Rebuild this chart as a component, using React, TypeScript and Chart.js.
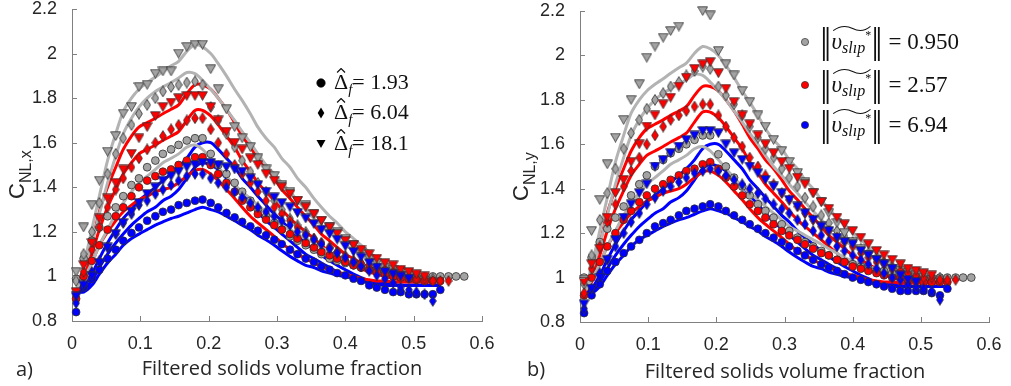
import React, { useEffect, useRef } from "react";
import { Chart, registerables } from "chart.js";
Chart.register(...registerables);

// ---------- shared x positions of the filtered bins ----------
const xGrid = [0.006, 0.017, 0.029, 0.040, 0.052, 0.064, 0.075, 0.087, 0.098, 0.110,
  0.122, 0.133, 0.145, 0.156, 0.168, 0.180, 0.191, 0.203, 0.214, 0.226,
  0.238, 0.249, 0.261, 0.272, 0.284, 0.296, 0.307, 0.319, 0.330, 0.342,
  0.354, 0.365, 0.377, 0.388, 0.400, 0.412, 0.423, 0.435, 0.446, 0.458,
  0.470, 0.481, 0.493, 0.504, 0.516, 0.528, 0.539, 0.551, 0.562, 0.574];

const xTickLabels = ["0", "0.1", "0.2", "0.3", "0.4", "0.5", "0.6"];
const yTickLabels = ["0.8", "1", "1.2", "1.4", "1.6", "1.8", "2", "2.2"];

// ---------- model lines (same in both panels) ----------
const lnGray1 = [0.93, 1.05, 1.21, 1.36, 1.52, 1.64, 1.74, 1.80, 1.84, 1.87, 1.895, 1.92, 1.945, 1.965, 2.01, 2.04, 2.03, 2.0, 1.955, 1.90, 1.84, 1.79, 1.73, 1.67, 1.62, 1.58, 1.53, 1.49, 1.44, 1.40, 1.35, 1.31, 1.27, 1.24, 1.20, 1.17, 1.14, 1.11, 1.08, 1.06, 1.04, 1.03, 1.02, 1.01, 1.0];
const lnGray2 = [0.93, 1.03, 1.15, 1.28, 1.42, 1.54, 1.64, 1.71, 1.76, 1.80, 1.83, 1.85, 1.87, 1.89, 1.915, 1.91, 1.88, 1.84, 1.80, 1.75, 1.70, 1.65, 1.60, 1.55, 1.50, 1.46, 1.42, 1.38, 1.34, 1.30, 1.26, 1.23, 1.20, 1.17, 1.14, 1.12, 1.10, 1.08, 1.06, 1.04, 1.03, 1.02, 1.01, 1.0, 1.0];
const lnGray3 = [0.93, 0.99, 1.06, 1.14, 1.21, 1.28, 1.33, 1.38, 1.42, 1.45, 1.48, 1.51, 1.53, 1.55, 1.58, 1.59, 1.57, 1.53, 1.49, 1.45, 1.41, 1.38, 1.35, 1.32, 1.29, 1.26, 1.23, 1.21, 1.19, 1.17, 1.15, 1.13, 1.11, 1.09, 1.075, 1.06, 1.05, 1.04, 1.03, 1.02, 1.01, 1.005, 1.0, 1.0, 1.0];
const lnRed1 = [0.93, 1.02, 1.15, 1.29, 1.40, 1.49, 1.57, 1.63, 1.67, 1.69, 1.71, 1.73, 1.75, 1.77, 1.82, 1.86, 1.86, 1.84, 1.80, 1.75, 1.69, 1.63, 1.58, 1.53, 1.49, 1.44, 1.39, 1.35, 1.31, 1.27, 1.23, 1.19, 1.16, 1.13, 1.10, 1.08, 1.06, 1.04, 1.025, 1.015, 1.005, 1.0, 0.995, 0.99, 0.99];
const lnRed2 = [0.93, 1.0, 1.10, 1.21, 1.31, 1.39, 1.46, 1.51, 1.55, 1.57, 1.59, 1.61, 1.63, 1.65, 1.70, 1.745, 1.745, 1.72, 1.68, 1.63, 1.58, 1.52, 1.47, 1.42, 1.38, 1.34, 1.30, 1.26, 1.23, 1.20, 1.17, 1.14, 1.11, 1.08, 1.065, 1.05, 1.035, 1.02, 1.01, 1.0, 0.99, 0.985, 0.98, 0.98, 0.98, 0.98];
const lnRed3 = [0.93, 0.98, 1.06, 1.14, 1.20, 1.25, 1.29, 1.32, 1.345, 1.36, 1.38, 1.39, 1.40, 1.42, 1.45, 1.475, 1.48, 1.46, 1.43, 1.39, 1.35, 1.31, 1.27, 1.24, 1.21, 1.18, 1.15, 1.12, 1.10, 1.08, 1.06, 1.045, 1.03, 1.02, 1.01, 1.0, 0.99, 0.985, 0.98, 0.98, 0.975, 0.975, 0.975, 0.975, 0.975, 0.975];
const lnBlue1 = [0.93, 0.95, 1.01, 1.08, 1.15, 1.21, 1.26, 1.30, 1.34, 1.37, 1.40, 1.43, 1.46, 1.49, 1.53, 1.58, 1.60, 1.60, 1.57, 1.53, 1.49, 1.44, 1.40, 1.36, 1.32, 1.28, 1.25, 1.21, 1.18, 1.15, 1.12, 1.095, 1.07, 1.05, 1.03, 1.01, 0.995, 0.98, 0.975, 0.97, 0.965, 0.96, 0.96, 0.96, 0.96, 0.96, 0.96];
const lnBlue2 = [0.93, 0.94, 0.98, 1.04, 1.10, 1.15, 1.19, 1.23, 1.26, 1.29, 1.31, 1.34, 1.36, 1.39, 1.44, 1.49, 1.51, 1.50, 1.48, 1.44, 1.41, 1.37, 1.33, 1.29, 1.25, 1.22, 1.19, 1.16, 1.13, 1.10, 1.08, 1.06, 1.04, 1.02, 1.005, 0.99, 0.98, 0.97, 0.965, 0.96, 0.96, 0.96, 0.96, 0.96, 0.96, 0.96, 0.96];
const lnBlue3 = [0.93, 0.93, 0.96, 1.01, 1.06, 1.10, 1.14, 1.17, 1.19, 1.21, 1.23, 1.245, 1.26, 1.27, 1.285, 1.30, 1.31, 1.30, 1.29, 1.27, 1.25, 1.23, 1.21, 1.185, 1.165, 1.14, 1.115, 1.09, 1.07, 1.05, 1.04, 1.025, 1.015, 1.005, 1.0, 0.99, 0.98, 0.97, 0.965, 0.96, 0.96, 0.96, 0.96, 0.96, 0.96, 0.96, 0.96];

// ---------- panel a) C_NL,x filtered data ----------
const aGrayCirc = [0.99, 1.08, 1.16, 1.22, 1.27, 1.31, 1.36, 1.41, 1.44, 1.49, 1.52, 1.55, 1.57, 1.59, 1.61, 1.62, 1.62, 1.55, 1.50, 1.46, 1.42, 1.38, 1.34, 1.30, 1.27, 1.24, 1.21, 1.18, 1.16, 1.14, 1.12, 1.10, 1.08, 1.07, 1.06, 1.05, 1.04, 1.03, 1.03, 1.02, 1.01, 1.01, 1.0, 1.0, 1.0, 1.0, 1.0, 1.0, 1.0, 1.0];
const aGrayDiam = [0.98, 1.10, 1.20, 1.33, 1.46, 1.55, 1.62, 1.68, 1.73, 1.77, 1.80, 1.83, 1.85, 1.86, 1.87, 1.875, 1.86, 1.76, 1.70, 1.64, 1.58, 1.52, 1.47, 1.42, 1.38, 1.34, 1.30, 1.26, 1.23, 1.20, 1.17, 1.15, 1.13, 1.11, 1.09, 1.07, 1.06, 1.05, 1.04, 1.03, 1.02, 1.01, 1.0, 1.0, 0.99, 0.99];
const aGrayTri = [1.02, 1.22, 1.32, 1.43, 1.56, 1.63, 1.73, 1.76, 1.85, 1.86, 1.91, 1.92, 1.92, 2.0, 2.03, 2.04, 2.04, 1.93, 1.84, 1.75, 1.67, 1.62, 1.58, 1.53, 1.48, 1.45, 1.41, 1.38, 1.34, 1.32, 1.28, 1.25, 1.22, 1.20, 1.17, 1.14, 1.11, 1.08, 1.06, 1.04, 1.03, 1.02, 1.0, 0.985, 0.98];
const aRedCirc = [0.90, 1.0, 1.07, 1.14, 1.21, 1.27, 1.31, 1.36, 1.40, 1.43, 1.45, 1.47, 1.48, 1.50, 1.52, 1.535, 1.535, 1.50, 1.46, 1.42, 1.38, 1.34, 1.31, 1.28, 1.255, 1.23, 1.21, 1.19, 1.17, 1.15, 1.13, 1.11, 1.095, 1.08, 1.065, 1.05, 1.04, 1.03, 1.02, 1.01, 1.0, 0.995, 0.99, 0.985, 0.98, 0.98, 0.98];
const aRedDiam = [0.92, 1.02, 1.12, 1.22, 1.31, 1.39, 1.44, 1.49, 1.53, 1.57, 1.60, 1.63, 1.66, 1.68, 1.70, 1.71, 1.71, 1.66, 1.60, 1.55, 1.50, 1.46, 1.42, 1.38, 1.34, 1.31, 1.28, 1.25, 1.22, 1.19, 1.17, 1.15, 1.13, 1.11, 1.09, 1.07, 1.06, 1.05, 1.04, 1.03, 1.02, 1.01, 1.0, 0.99, 0.99, 0.98, 0.98, 0.98];
const aRedTri = [0.93, 1.05, 1.15, 1.26, 1.35, 1.42, 1.48, 1.55, 1.62, 1.67, 1.72, 1.76, 1.78, 1.80, 1.81, 1.81, 1.81, 1.76, 1.70, 1.65, 1.60, 1.57, 1.53, 1.50, 1.46, 1.43, 1.40, 1.37, 1.34, 1.31, 1.28, 1.25, 1.22, 1.19, 1.16, 1.14, 1.12, 1.10, 1.08, 1.06, 1.05, 1.03, 1.02, 1.01, 1.0];
const aBlueCirc = [0.84, 0.95, 0.99, 1.03, 1.08, 1.12, 1.16, 1.195, 1.22, 1.25, 1.27, 1.29, 1.30, 1.32, 1.33, 1.34, 1.345, 1.33, 1.31, 1.285, 1.265, 1.245, 1.225, 1.205, 1.185, 1.165, 1.145, 1.12, 1.10, 1.08, 1.065, 1.045, 1.03, 1.015, 1.005, 0.99, 0.98, 0.96, 0.95, 0.94, 0.93, 0.93, 0.92, 0.92, 0.92, 0.92, 0.94];
const aBlueDiam = [0.88, 0.96, 1.02, 1.07, 1.13, 1.19, 1.24, 1.28, 1.32, 1.34, 1.37, 1.39, 1.41, 1.43, 1.45, 1.46, 1.46, 1.44, 1.42, 1.40, 1.38, 1.355, 1.33, 1.31, 1.29, 1.27, 1.25, 1.23, 1.20, 1.185, 1.165, 1.145, 1.125, 1.105, 1.085, 1.065, 1.045, 1.025, 1.005, 0.99, 0.97, 0.95, 0.94, 0.93, 0.92, 0.89];
const aBlueTri = [0.91, 0.96, 1.00, 1.06, 1.13, 1.19, 1.24, 1.29, 1.33, 1.37, 1.40, 1.43, 1.45, 1.47, 1.49, 1.50, 1.51, 1.51, 1.50, 1.49, 1.48, 1.47, 1.44, 1.41, 1.38, 1.355, 1.33, 1.31, 1.285, 1.26, 1.235, 1.21, 1.19, 1.165, 1.135, 1.11, 1.085, 1.06, 1.04, 1.02, 1.01, 1.0, 0.99];

// ---------- panel b) C_NL,y filtered data ----------
const bGrayCirc = [1.0, 1.09, 1.16, 1.22, 1.27, 1.32, 1.37, 1.42, 1.46, 1.50, 1.53, 1.56, 1.58, 1.60, 1.62, 1.64, 1.64, 1.555, 1.50, 1.45, 1.41, 1.37, 1.33, 1.30, 1.27, 1.24, 1.21, 1.18, 1.16, 1.14, 1.12, 1.10, 1.08, 1.07, 1.06, 1.05, 1.04, 1.03, 1.03, 1.02, 1.01, 1.01, 1.0, 1.0, 1.0, 1.0, 1.0, 1.0, 1.0, 1.0];
const bGrayDiam = [0.97, 1.10, 1.26, 1.38, 1.49, 1.58, 1.65, 1.71, 1.76, 1.80, 1.83, 1.86, 1.88, 1.91, 1.93, 1.95, 1.94, 1.86, 1.82, 1.78, 1.73, 1.68, 1.63, 1.58, 1.54, 1.49, 1.45, 1.41, 1.36, 1.32, 1.28, 1.245, 1.21, 1.185, 1.16, 1.13, 1.11, 1.09, 1.07, 1.05, 1.04, 1.03, 1.02, 1.01, 1.0, 1.0];
const bGrayTri = [0.99, 1.21, 1.35, 1.51, 1.63, 1.71, 1.80, 1.87, 1.99, 2.04, 2.08, 2.11, 2.13, null, null, 2.20, 2.18, 2.02, 1.96, 1.91, 1.84, 1.79, 1.73, 1.68, 1.62, 1.57, 1.52, 1.47, 1.43, 1.38, 1.34, 1.29, 1.245, 1.20, 1.16, 1.13, 1.10, 1.08, 1.06, 1.04, 1.03, 1.02, 1.01, 1.0, 0.99];
const bRedCirc = [0.92, 1.0, 1.07, 1.14, 1.20, 1.26, 1.30, 1.34, 1.37, 1.40, 1.42, 1.44, 1.46, 1.48, 1.49, 1.51, 1.52, 1.49, 1.45, 1.41, 1.37, 1.33, 1.30, 1.27, 1.24, 1.21, 1.19, 1.17, 1.15, 1.13, 1.11, 1.10, 1.08, 1.07, 1.05, 1.04, 1.03, 1.02, 1.01, 1.0, 1.0, 0.99, 0.99, 0.98, 0.98, 0.98, 0.98];
const bRedDiam = [0.93, 1.04, 1.14, 1.25, 1.33, 1.41, 1.48, 1.54, 1.60, 1.64, 1.68, 1.71, 1.73, 1.75, 1.77, 1.78, 1.78, 1.73, 1.68, 1.63, 1.59, 1.54, 1.50, 1.46, 1.42, 1.38, 1.35, 1.32, 1.29, 1.26, 1.23, 1.21, 1.18, 1.16, 1.14, 1.11, 1.09, 1.07, 1.06, 1.04, 1.03, 1.02, 1.01, 1.0, 1.0, 0.99, 0.99, 0.99];
const bRedTri = [0.98, 1.06, 1.13, 1.27, 1.38, 1.44, 1.52, 1.60, 1.68, 1.73, 1.78, 1.81, 1.86, 1.90, 1.94, 1.96, 1.97, 1.92, 1.85, 1.79, 1.73, 1.69, 1.64, 1.60, 1.56, 1.52, 1.49, 1.45, 1.42, 1.38, 1.34, 1.31, 1.27, 1.24, 1.21, 1.18, 1.15, 1.12, 1.10, 1.08, 1.06, 1.04, 1.03, 1.02, 1.01];
const bBlueCirc = [0.84, 0.92, 0.97, 1.03, 1.07, 1.11, 1.14, 1.17, 1.20, 1.23, 1.245, 1.26, 1.28, 1.30, 1.31, 1.32, 1.33, 1.32, 1.30, 1.28, 1.26, 1.24, 1.22, 1.20, 1.18, 1.16, 1.14, 1.12, 1.10, 1.08, 1.06, 1.045, 1.03, 1.015, 1.0, 0.99, 0.98, 0.97, 0.96, 0.95, 0.94, 0.94, 0.94, 0.94, 0.93, 0.92, 0.95];
const bBlueDiam = [0.86, 0.95, 1.02, 1.08, 1.14, 1.20, 1.25, 1.29, 1.33, 1.36, 1.39, 1.41, 1.43, 1.45, 1.47, 1.48, 1.49, 1.48, 1.46, 1.44, 1.42, 1.40, 1.38, 1.355, 1.33, 1.31, 1.29, 1.26, 1.24, 1.21, 1.19, 1.165, 1.14, 1.12, 1.10, 1.08, 1.06, 1.04, 1.02, 1.0, 0.99, 0.97, 0.96, 0.95, 0.94, 0.90];
const bBlueTri = [0.88, 0.95, 1.00, 1.08, 1.17, 1.27, 1.33, 1.38, 1.42, 1.50, 1.53, 1.56, 1.59, 1.62, 1.64, 1.66, 1.66, 1.65, 1.60, 1.56, 1.53, 1.50, 1.47, 1.44, 1.41, 1.38, 1.35, 1.32, 1.29, 1.26, 1.23, 1.21, 1.18, 1.16, 1.15, 1.12, 1.10, 1.08, 1.06, 1.04, 1.01, 0.99, 0.98];

// ---------- legend text ----------
const filterLabels = ["1.93", "6.04", "18.1"];
const slipLabels = ["0.950", "2.57", "6.94"];

// ---------- styles ----------
const GRAY_LINE = "#b3b3b3";
const GRAY_FILL = "#a3a3a3";
const RED = "#ff0000";
const BLUE = "#0000ff";
const EDGE = "#2e2e2e";
const AXIS = "#808080";
const TXT = "#262626";
const SANS = '"Liberation Sans", Arial, sans-serif';

type Shape = "circle" | "diamond" | "tri";

function markerCanvas(shape: Shape, fill: string): HTMLCanvasElement {
  const c = document.createElement("canvas");
  if (shape === "diamond") { c.width = 8; c.height = 12; } else { c.width = 11; c.height = 10; }
  const g = c.getContext("2d")!;
  g.beginPath();
  if (shape === "diamond") {
    g.moveTo(4, 0.6); g.lineTo(7.4, 6); g.lineTo(4, 11.4); g.lineTo(0.6, 6);
  } else {
    g.moveTo(0.6, 0.8); g.lineTo(10.4, 0.8); g.lineTo(5.5, 9.4);
  }
  g.closePath();
  g.fillStyle = fill; g.fill();
  g.strokeStyle = EDGE; g.lineWidth = 0.8; g.stroke();
  return c;
}

const pts = (ys: (number | null)[]) =>
  ys.map((y, i) => (y == null ? null : { x: xGrid[i], y })).filter((p) => p !== null) as { x: number; y: number }[];

interface PanelSpec {
  scatter: { ys: (number | null)[]; fill: string; shape: Shape }[];
  sub: string;
  tag: string;
  pad: { left: number; top: number; right: number; bottom: number };
  yWidth: number;
  xHeight: number;
  yTitle: { x: number; y: number };
  xTitle: { x: number; y: number };
  tagPos: { x: number; y: number };
}

const lineSet = [
  { ys: lnGray3, color: GRAY_LINE }, { ys: lnGray2, color: GRAY_LINE }, { ys: lnGray1, color: GRAY_LINE },
  { ys: lnRed3, color: RED }, { ys: lnRed2, color: RED }, { ys: lnRed1, color: RED },
  { ys: lnBlue3, color: BLUE }, { ys: lnBlue2, color: BLUE }, { ys: lnBlue1, color: BLUE },
];

const panelA: PanelSpec = {
  scatter: [
    { ys: aGrayCirc, fill: GRAY_FILL, shape: "circle" }, { ys: aGrayDiam, fill: GRAY_FILL, shape: "diamond" }, { ys: aGrayTri, fill: GRAY_FILL, shape: "tri" },
    { ys: aRedCirc, fill: RED, shape: "circle" }, { ys: aRedDiam, fill: RED, shape: "diamond" }, { ys: aRedTri, fill: RED, shape: "tri" },
    { ys: aBlueCirc, fill: BLUE, shape: "circle" }, { ys: aBlueDiam, fill: BLUE, shape: "diamond" }, { ys: aBlueTri, fill: BLUE, shape: "tri" },
  ],
  sub: "NL,x", tag: "a)",
  pad: { left: 0, top: 9, right: 18, bottom: 0 }, yWidth: 72, xHeight: 65,
  yTitle: { x: 24, y: 199 }, xTitle: { x: 282, y: 375 }, tagPos: { x: 16, y: 376 },
};

const panelB: PanelSpec = {
  scatter: [
    { ys: bGrayCirc, fill: GRAY_FILL, shape: "circle" }, { ys: bGrayDiam, fill: GRAY_FILL, shape: "diamond" }, { ys: bGrayTri, fill: GRAY_FILL, shape: "tri" },
    { ys: bRedCirc, fill: RED, shape: "circle" }, { ys: bRedDiam, fill: RED, shape: "diamond" }, { ys: bRedTri, fill: RED, shape: "tri" },
    { ys: bBlueCirc, fill: BLUE, shape: "circle" }, { ys: bBlueDiam, fill: BLUE, shape: "diamond" }, { ys: bBlueTri, fill: BLUE, shape: "tri" },
  ],
  sub: "NL,y", tag: "b)",
  pad: { left: 0, top: 11, right: 22, bottom: 0 }, yWidth: 80, xHeight: 64,
  yTitle: { x: 28, y: 201 }, xTitle: { x: 285, y: 378 }, tagPos: { x: 27, y: 376 },
};

const decorPlugin = {
  id: "decor",
  afterDraw(chart: any, _args: any, opts: any) {
    const { ctx, chartArea, scales } = chart;
    const spec: PanelSpec = opts.spec;
    ctx.save();
    // inward tick marks
    ctx.strokeStyle = AXIS;
    ctx.lineWidth = 1;
    ctx.beginPath();
    scales.x.ticks.forEach((_t: any, i: number) => {
      const px = Math.round(scales.x.getPixelForTick(i)) + 0.5;
      ctx.moveTo(px, chartArea.bottom);
      ctx.lineTo(px, chartArea.bottom - 5);
    });
    scales.y.ticks.forEach((_t: any, i: number) => {
      const py = Math.round(scales.y.getPixelForTick(i)) + 0.5;
      ctx.moveTo(chartArea.left, py);
      ctx.lineTo(chartArea.left + 5, py);
    });
    ctx.stroke();
    // y title with subscript
    ctx.fillStyle = TXT;
    ctx.translate(spec.yTitle.x, spec.yTitle.y);
    ctx.rotate(-Math.PI / 2);
    ctx.textAlign = "left";
    ctx.textBaseline = "alphabetic";
    ctx.font = "22px " + SANS;
    ctx.fillText("C", 0, 0);
    const w = ctx.measureText("C").width;
    ctx.font = "16px " + SANS;
    ctx.fillText(spec.sub, w, 7);
    ctx.setTransform(1, 0, 0, 1, 0, 0);
    // x title
    ctx.font = '20px "Open Sans"';
    ctx.textAlign = "center";
    ctx.fillText("Filtered solids volume fraction", spec.xTitle.x, spec.xTitle.y);
    // panel tag
    ctx.textAlign = "left";
    ctx.font = '20px "Open Sans"';
    ctx.fillText(spec.tag, spec.tagPos.x, spec.tagPos.y);
    ctx.restore();
  },
};

function buildChart(canvas: HTMLCanvasElement, spec: PanelSpec) {
  const datasets: any[] = [];
  lineSet.forEach((l) => {
    datasets.push({
      data: pts(l.ys), showLine: true, borderColor: l.color, borderWidth: 3,
      pointRadius: 0, tension: 0.3, fill: false, order: 100,
    });
  });
  spec.scatter.forEach((s, i) => {
    datasets.push({
      data: pts(s.ys), showLine: false,
      pointStyle: s.shape === "circle" ? "circle" : markerCanvas(s.shape, s.fill),
      pointRadius: 3.9, backgroundColor: s.fill, borderColor: EDGE, borderWidth: 0.8,
      order: 50 - i, clip: false,
    });
  });
  return new Chart(canvas, {
    type: "scatter",
    data: { datasets },
    plugins: [decorPlugin],
    options: {
      animation: false,
      responsive: true,
      maintainAspectRatio: false,
      events: [],
      layout: { padding: spec.pad },
      plugins: { legend: { display: false }, tooltip: { enabled: false }, decor: { spec } } as any,
      scales: {
        x: {
          type: "linear", min: 0, max: 0.6,
          grid: { display: false },
          border: { display: true, color: AXIS, width: 1 },
          ticks: {
            stepSize: 0.1, padding: 4, color: TXT, maxRotation: 0,
            font: { family: SANS, size: 18 },
            callback: (v: any) => xTickLabels[Math.round(Number(v) * 10)] ?? "",
          },
          afterFit: (s: any) => { s.height = spec.xHeight; s.paddingLeft = 0; s.paddingRight = 0; },
        },
        y: {
          type: "linear", min: 0.8, max: 2.2,
          grid: { display: false },
          border: { display: true, color: AXIS, width: 1 },
          ticks: {
            stepSize: 0.2, padding: 7, color: TXT,
            font: { family: SANS, size: 18 },
            callback: (v: any) => yTickLabels[Math.round((Number(v) - 0.8) / 0.2)] ?? "",
          },
          afterFit: (s: any) => { s.width = spec.yWidth; s.paddingTop = 0; s.paddingBottom = 0; },
        },
      },
    } as any,
  });
}

const serif = '"Liberation Serif", "DejaVu Serif", serif';

function Marker({ shape, fill }: { shape: Shape; fill: string }) {
  return (
    <svg width="12" height="12" viewBox="0 0 12 12" style={{ display: "block" }}>
      {shape === "circle" && <circle cx="6" cy="6" r={fill === "#000" ? 4.2 : 3.6} fill={fill} stroke={fill === "#000" ? "#000" : EDGE} strokeWidth="0.7" />}
      {shape === "diamond" && <polygon points="6,0.5 9.3,6 6,11.5 2.7,6" fill={fill} />}
      {shape === "tri" && <polygon points="1.5,2 10.5,2 6,10" fill={fill} />}
    </svg>
  );
}

function FilterText({ v }: { v: string }) {
  return (
    <span style={{ fontFamily: serif, fontSize: 22, color: "#111", whiteSpace: "nowrap" }}>
      <span style={{ position: "relative", display: "inline-block" }}>
        {"\u0394"}
        <svg width="100%" height="5" viewBox="0 0 100 10" preserveAspectRatio="none"
          style={{ position: "absolute", left: 0, top: 1 }}>
          <path d="M22,9 L50,1 L78,9" fill="none" stroke="#111" strokeWidth="1.2" vectorEffect="non-scaling-stroke" />
        </svg>
      </span>
      <i style={{ fontSize: 15, position: "relative", top: 5 }}>f</i>
      {"= " + v}
    </span>
  );
}

function Bars() {
  return <span style={{ display: "inline-block", transform: "scaleY(1.45)", fontFamily: '"DejaVu Serif", serif' }}>{"\u2016"}</span>;
}

function SlipText({ v }: { v: string }) {
  return (
    <span style={{ fontFamily: serif, fontSize: 23, color: "#111", whiteSpace: "nowrap" }}>
      <Bars />
      <span style={{ position: "relative", display: "inline-block" }}>
        <i>{"\u03C5"}</i>
        <i style={{ fontSize: 16, position: "relative", top: 4 }}>{"sl\u0131p"}</i>
        <span style={{ fontSize: 12, position: "relative", top: -10 }}>*</span>
        <svg width="100%" height="7" viewBox="0 0 100 10" preserveAspectRatio="none"
          style={{ position: "absolute", left: 0, top: -1 }}>
          <path d="M3,8 C20,1 38,1 52,5 C66,9 82,9 97,2" fill="none" stroke="#111" strokeWidth="1.1" vectorEffect="non-scaling-stroke" />
        </svg>
      </span>
      <Bars />
      {" = " + v}
    </span>
  );
}

export default function App() {
  const ra = useRef<HTMLCanvasElement>(null);
  const rb = useRef<HTMLCanvasElement>(null);
  useEffect(() => {
    const ca = buildChart(ra.current!, panelA);
    const cb = buildChart(rb.current!, panelB);
    return () => { ca.destroy(); cb.destroy(); };
  }, []);

  const aRows: { shape: Shape; cy: number }[] = [
    { shape: "circle", cy: 83 }, { shape: "diamond", cy: 113 }, { shape: "tri", cy: 144 },
  ];
  const bRows = [{ fill: GRAY_FILL, cy: 42 }, { fill: RED, cy: 85 }, { fill: BLUE, cy: 125 }];

  return (
    <div style={{ position: "absolute", left: 0, top: 0, width: 1011, height: 386, background: "#fff", overflow: "hidden" }}>
      <div style={{ position: "absolute", left: 0, top: 0, width: 500, height: 386 }}>
        <canvas ref={ra} />
      </div>
      <div style={{ position: "absolute", left: 500, top: 0, width: 511, height: 386 }}>
        <canvas ref={rb} />
      </div>
      {aRows.map((r, i) => (
        <React.Fragment key={"a" + i}>
          <div style={{ position: "absolute", left: 315, top: r.cy - 6 }}>
            <Marker shape={r.shape} fill="#000" />
          </div>
          <div style={{ position: "absolute", left: 334, top: r.cy - 16, height: 30, lineHeight: "30px" }}>
            <FilterText v={filterLabels[i]} />
          </div>
        </React.Fragment>
      ))}
      {bRows.map((r, i) => (
        <React.Fragment key={"b" + i}>
          <div style={{ position: "absolute", left: 799, top: r.cy - 6 }}>
            <Marker shape="circle" fill={r.fill} />
          </div>
          <div style={{ position: "absolute", left: 820, top: r.cy - 17, height: 32, lineHeight: "32px" }}>
            <SlipText v={slipLabels[i]} />
          </div>
        </React.Fragment>
      ))}
    </div>
  );
}
